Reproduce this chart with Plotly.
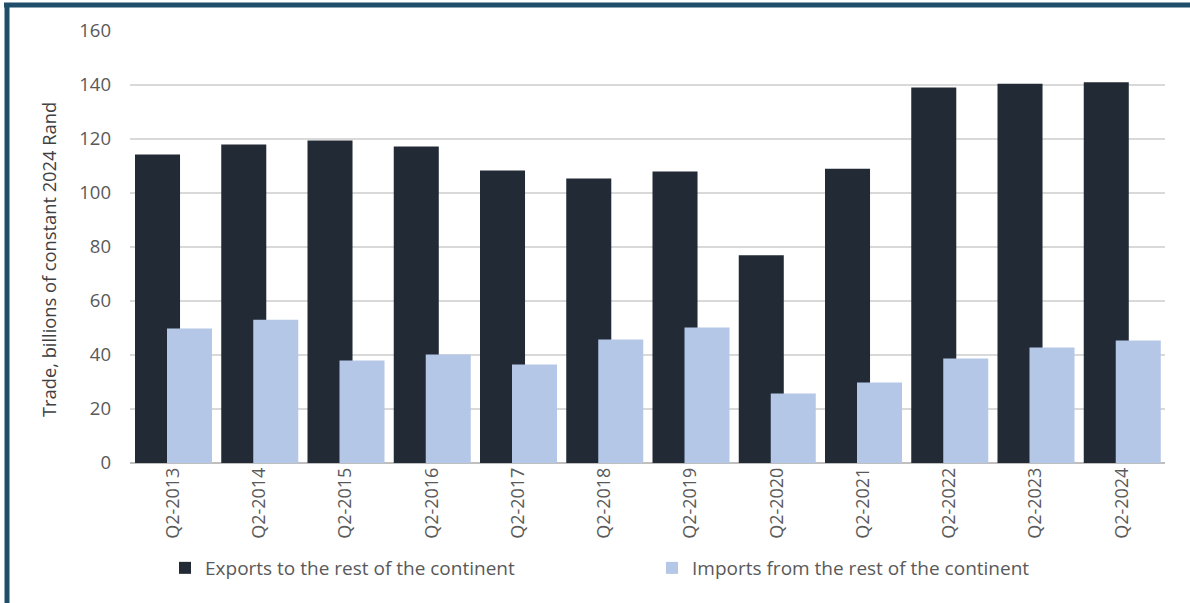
import plotly.graph_objects as go

categories = ["Q2-2013", "Q2-2014", "Q2-2015", "Q2-2016", "Q2-2017", "Q2-2018",
              "Q2-2019", "Q2-2020", "Q2-2021", "Q2-2022", "Q2-2023", "Q2-2024"]
exports = [114.3, 118.0, 119.4, 117.2, 108.3, 105.4, 108.0, 76.9, 109.0, 139.1, 140.5, 141.0]
imports = [49.8, 53.1, 38.0, 40.2, 36.5, 45.7, 50.2, 25.7, 29.8, 38.7, 42.8, 45.4]
y_ticks = [0, 20, 40, 60, 80, 100, 120, 140, 160]
y_title = "Trade, billions of constant 2024 Rand"

W, H = 1190, 603
L, R, T, B = 130, 25, 31, 140
FONT = "Open Sans"

fig = go.Figure()
fig.add_trace(go.Bar(
    x=categories, y=exports, name="Exports to the rest of the continent",
    marker=dict(color="#222A35", line=dict(width=0)),
    width=0.522, offset=-0.442, legend="legend",
))
fig.add_trace(go.Bar(
    x=categories, y=imports, name="Imports from the rest of the continent",
    marker=dict(color="#B4C7E7", line=dict(width=0)),
    width=0.522, offset=-0.071, legend="legend2",
))

pw = W - L - R
ph = H - T - B
def px_x(x):
    return (x - L) / pw
def px_y(y):
    return (H - B - y) / ph

leg_common = dict(
    orientation="h", yanchor="middle", xanchor="left",
    font=dict(size=19, color="#595959", family=FONT),
    itemwidth=30, bgcolor="rgba(0,0,0,0)",
)

fig.update_layout(
    width=W, height=H,
    margin=dict(l=L, r=R, t=T, b=B, autoexpand=False),
    paper_bgcolor="white", plot_bgcolor="white",
    barmode="overlay",
    font=dict(family=FONT, color="#595959", size=18),
    showlegend=True,
    legend=dict(x=px_x(165), y=px_y(568), **leg_common),
    legend2=dict(x=px_x(652), y=px_y(568), **leg_common),
    xaxis=dict(
        type="category", tickangle=-90, showgrid=False, ticks="",
        tickfont=dict(size=18, color="#595959"), showline=False,
        range=[-0.5, 11.5],
    ),
    yaxis=dict(
        range=[0, 160], tickvals=y_ticks, showgrid=True, gridcolor="#D9D9D9",
        gridwidth=1.5, zeroline=True, zerolinecolor="#BFBFBF", zerolinewidth=1.5,
        ticks="", tickfont=dict(size=18.5, color="#595959"), ticklabelstandoff=18,
    ),
    annotations=[
        dict(text=y_title, xref="paper", yref="paper", x=px_x(48), y=px_y(260),
             xanchor="center", yanchor="middle", textangle=-90, showarrow=False,
             font=dict(size=18.3, color="#404040", family=FONT)),
    ],
    shapes=[
        dict(type="line", xref="paper", yref="paper",
             x0=px_x(4), x1=px_x(1190), y0=px_y(5), y1=px_y(5),
             line=dict(color="#1F4E6A", width=5)),
        dict(type="line", xref="paper", yref="paper",
             x0=px_x(7), x1=px_x(7), y0=px_y(3), y1=px_y(603),
             line=dict(color="#1F4E6A", width=5)),
    ],
)

fig.write_html("out.html")
